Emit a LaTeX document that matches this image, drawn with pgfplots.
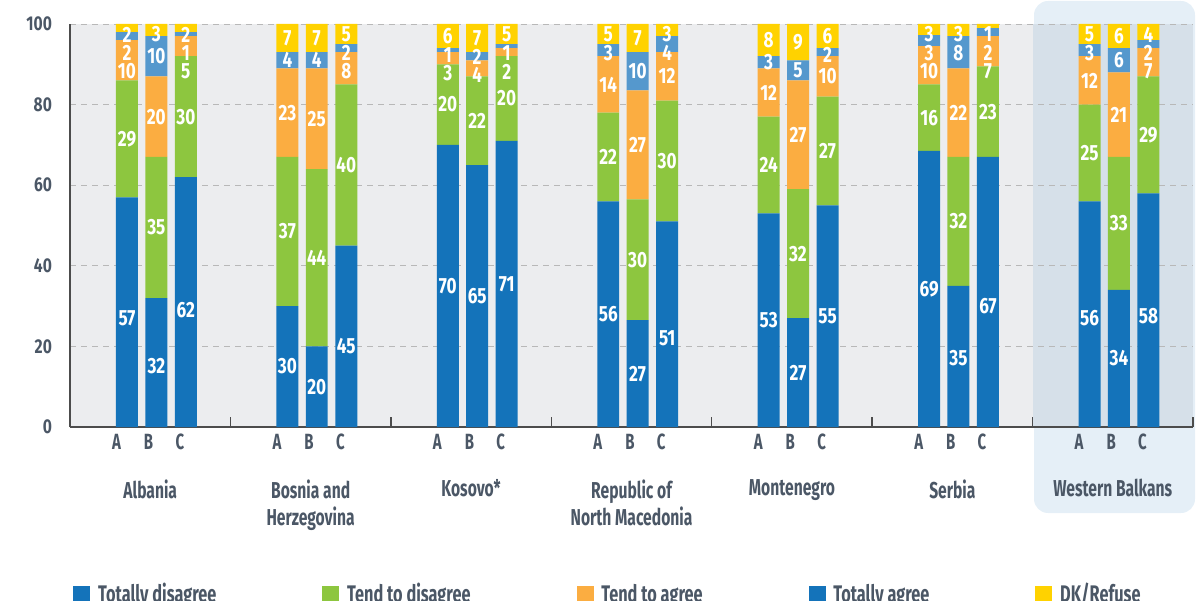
\documentclass[border=0pt]{standalone}
\usepackage{fontspec}
\setmainfont{Fira Sans}[FakeStretch=0.78]
\newfontfamily\condfont{Fira Sans}[FakeStretch=0.68]
\usepackage{pgfplots}
\usepackage{pgfplotstable}
\pgfplotsset{compat=1.18}

\definecolor{cTD}{HTML}{1473BA}
\definecolor{cTeD}{HTML}{8DC63F}
\definecolor{cTeA}{HTML}{FBAD41}
\definecolor{cTA}{HTML}{5598CD}
\definecolor{cDK}{HTML}{FFD200}
\definecolor{txt}{HTML}{4B5766}
\definecolor{plotbg}{HTML}{ECEDEF}
\definecolor{wbbox}{HTML}{E5EFF7}
\definecolor{wbin}{HTML}{D6E0E9}

\pgfplotsset{
  chartaxis/.style={
    at={(35pt,86.5pt)}, anchor=south west,
    scale only axis, width=561.5pt, height=201.5pt,
    xmin=0, xmax=7, ymin=0, ymax=100,
  },
}

% bar heights, one table per answer (x = bar position, group i -> i+0.355/0.538/0.722)
\pgfplotstableread{
x y
0.355 57
0.538 32
0.722 62
1.355 30
1.538 20
1.722 45
2.355 70
2.538 65
2.722 71
3.355 56
3.538 26.5
3.722 51
4.355 53
4.538 27
4.722 55
5.355 68.5
5.538 35
5.722 67
6.355 56
6.538 34
6.722 58
}\totdis
\pgfplotstableread{
x y
0.355 29
0.538 35
0.722 30
1.355 37
1.538 44
1.722 40
2.355 20
2.538 22
2.722 21
3.355 22
3.538 30
3.722 30
4.355 24
4.538 32
4.722 27
5.355 16.5
5.538 32
5.722 22.5
6.355 24
6.538 33
6.722 29
}\tenddis
\pgfplotstableread{
x y
0.355 10
0.538 20
0.722 5
1.355 22
1.538 25
1.722 8
2.355 3
2.538 4
2.722 2
3.355 14
3.538 27
3.722 12
4.355 12
4.538 27
4.722 10
5.355 9.5
5.538 22
5.722 7.5
6.355 12
6.538 21
6.722 7
}\tendagr
\pgfplotstableread{
x y
0.355 2
0.538 10
0.722 1
1.355 4
1.538 4
1.722 2
2.355 1
2.538 2
2.722 1
3.355 3
3.538 9.5
3.722 4
4.355 3
4.538 5
4.722 2
5.355 2.75
5.538 8
5.722 2
6.355 3
6.538 6
6.722 2
}\totagr
\pgfplotstableread{
x y
0.355 2
0.538 3
0.722 2
1.355 7
1.538 7
1.722 5
2.355 6
2.538 7
2.722 5
3.355 5
3.538 7
3.722 3
4.355 8
4.538 9
4.722 6
5.355 2.75
5.538 3
5.722 1
6.355 5
6.538 6
6.722 4
}\dkref

\begin{document}
\begin{tikzpicture}
\useasboundingbox (0,0) rectangle (598.5pt,300pt);
% highlight box behind Western Balkans, plot background
\fill[wbbox, rounded corners=7pt] (517pt,43.5pt) rectangle (597.5pt,299.5pt);
\fill[plotbg] (35pt,86.5pt) rectangle (596.5pt,288pt);
\fill[wbin] (516.29pt,86.5pt) rectangle (596.5pt,288pt);

\begin{axis}[chartaxis,
  ybar stacked, bar width=0.137,
  clip=false,
  axis x line*=bottom, axis y line*=left,
  axis line style={draw=black!70, line width=0.9pt},
  xtick={1,2,...,7}, xticklabels={},
  tick align=inside, major tick length=5pt,
  xtick style={draw=black!70, line width=0.7pt},
  extra x ticks={0.29,0.49,0.685,1.29,1.49,1.685,2.29,2.49,2.685,3.29,3.49,3.685,4.29,4.49,4.685,5.29,5.49,5.685,6.29,6.49,6.685},
  extra x tick labels={A,B,C,A,B,C,A,B,C,A,B,C,A,B,C,A,B,C,A,B,C},
  extra x tick style={major tick length=0pt, xticklabel style={font=\condfont\fontsize{11}{12}\selectfont\bfseries, text=txt}},
  ytick={0,20,...,100},
  ytick style={draw=none},
  yticklabel style={font=\fontsize{10}{11}\selectfont\bfseries, text=txt, xshift=-5.5pt},
  /pgf/number format/assume math mode=true,
  ymajorgrids,
  grid style={draw=black!28, dash pattern=on 3pt off 2.5pt, line width=0.4pt},
  legend columns=5,
  legend style={at={(axis description cs:0.0027,-0.377)}, anchor=north west,
    draw=none, fill=none, inner sep=0pt,
    font=\condfont\fontsize{12}{14}\selectfont\bfseries, text=txt,
    /tikz/every even column/.append style={column sep=51pt}},
  legend cell align=left,
]
\addlegendimage{legend image code/.code={\fill[cTD] (0pt,-4pt) rectangle (8pt,4pt); \path (10pt,0pt);}}
\addlegendentry{Totally disagree}
\addlegendimage{legend image code/.code={\fill[cTeD] (0pt,-4pt) rectangle (8pt,4pt); \path (10pt,0pt);}}
\addlegendentry{Tend to disagree}
\addlegendimage{legend image code/.code={\fill[cTeA] (0pt,-4pt) rectangle (8pt,4pt); \path (10pt,0pt);}}
\addlegendentry{Tend to agree}
\addlegendimage{legend image code/.code={\fill[cTD] (0pt,-4pt) rectangle (8pt,4pt); \path (10pt,0pt);}}
\addlegendentry{Totally agree}
\addlegendimage{legend image code/.code={\fill[cDK] (0pt,-4pt) rectangle (8pt,4pt); \path (10pt,0pt);}}
\addlegendentry{DK/Refuse}

\addplot[fill=cTD, draw=none, forget plot] table {\totdis};
\addplot[fill=cTeD, draw=none, forget plot] table {\tenddis};
\addplot[fill=cTeA, draw=none, forget plot] table {\tendagr};
\addplot[fill=cTA, draw=none, forget plot] table {\totagr};
\addplot[fill=cDK, draw=none, forget plot] table {\dkref};
\end{axis}

% value labels and country names, same geometry, not stacked
\begin{axis}[chartaxis,
  axis x line*=bottom, axis y line=none,
  x axis line style={draw=none},
  xtick={0.5,1.5,...,6.5},
  xticklabels={Albania, Bosnia and\\Herzegovina, Kosovo*, Republic of\\North Macedonia, Montenegro, Serbia, Western Balkans},
  xtick style={draw=none}, major tick length=0pt,
  xticklabel style={anchor=north, align=center, inner sep=0pt, yshift=-26pt,
    font=\condfont\fontsize{11.5}{13.5}\selectfont\bfseries, text=txt},
  ytick=\empty,
]
\addplot[only marks, mark=none, nodes near coords, point meta=explicit symbolic,
  nodes near coords align=center,
  every node near coord/.append style={font=\fontsize{11}{12}\selectfont\bfseries, text=white, inner sep=0pt}]
  table[meta=l] {
x y l
0.355 27 57
0.355 71.5 29
0.355 88.2 10
0.355 92.8 2
0.355 97.4 2
0.538 15 32
0.538 49.5 35
0.538 77 20
0.538 92 10
0.538 97.4 3
0.722 29 62
0.722 77 30
0.722 88.2 5
0.722 92.8 1
0.722 97.4 2
1.355 15 30
1.355 48.5 37
1.355 78 23
1.355 91 4
1.355 96.5 7
1.538 10 20
1.538 42 44
1.538 76.5 25
1.538 91 4
1.538 96.5 7
1.722 20 45
1.722 65 40
1.722 88.2 8
1.722 92.8 2
1.722 97.4 5
2.355 35 70
2.355 80 20
2.355 87.8 3
2.355 92.4 1
2.355 97 6
2.538 32.5 65
2.538 76 22
2.538 87.3 4
2.538 91.9 2
2.538 96.5 7
2.722 35.5 71
2.722 81.5 20
2.722 88.2 2
2.722 92.8 1
2.722 97.4 5
3.355 28 56
3.355 67 22
3.355 85 14
3.355 92.8 3
3.355 97.4 5
3.538 13.25 27
3.538 41.5 30
3.538 70 27
3.538 88.25 10
3.538 96.5 7
3.722 22 51
3.722 66 30
3.722 87 12
3.722 92.8 4
3.722 97.4 3
4.355 26.5 53
4.355 65 24
4.355 83 12
4.355 90.5 3
4.355 96 8
4.538 13.5 27
4.538 43 32
4.538 72.5 27
4.538 88.5 5
4.538 95.5 9
4.722 27.5 55
4.722 68.5 27
4.722 87 10
4.722 92.4 2
4.722 97 6
5.355 34.25 69
5.355 76.75 16
5.355 88.2 10
5.355 92.8 3
5.355 97.4 3
5.538 17 35
5.538 51 32
5.538 78 22
5.538 92.8 8
5.538 97.4 3
5.722 30 67
5.722 78.25 23
5.722 88.2 7
5.722 92.8 2
5.722 97.4 1
6.355 27 56
6.355 68 25
6.355 86 12
6.355 92.8 3
6.355 97.4 5
6.538 17 34
6.538 50.5 33
6.538 77.5 21
6.538 91 6
6.538 97 6
6.722 27.5 58
6.722 72.5 29
6.722 88.2 7
6.722 92.8 2
6.722 97.4 4
};
\end{axis}
\end{tikzpicture}
\end{document}
